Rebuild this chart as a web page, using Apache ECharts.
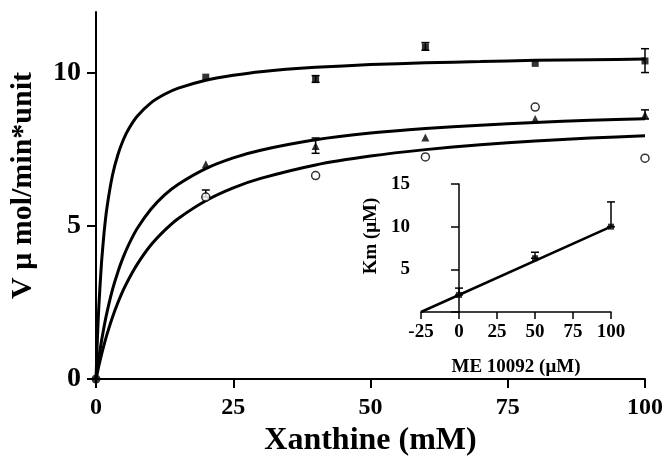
<!DOCTYPE html>
<html>
<head>
<meta charset="utf-8">
<script src="https://cdn.jsdelivr.net/npm/echarts@6/dist/echarts.min.js"></script>
<style>
  html, body { margin: 0; padding: 0; background: #fff; }
  #main { width: 666px; height: 468px; }
</style>
</head>
<body>
<div id="main"></div>
<script>
// measured points (xanthine, V)
var xPoints = [20, 40, 60, 80, 100];
var squareV = [9.87, 9.80, 10.86, 10.32, 10.40];
var triangleV = [7.02, 7.62, 7.90, 8.50, 8.63];
var circleV = [5.95, 6.65, 7.26, 8.89, 7.22];

// error bars: [x, low, high]
var squareErr = [[40, 9.70, 9.92], [60, 10.75, 11.0], [100, 10.02, 10.80]];
var triangleErr = [[40, 7.38, 7.88], [100, 8.50, 8.80]];
var circleErr = [[20, 5.95, 6.18]];

// fitted curves
var curveX = [0, 0.25, 0.5, 1, 1.5, 2, 3, 4, 5, 6, 7.5, 10, 12.5, 15, 20, 25, 30, 40, 50, 60, 70, 80, 90, 100];
var curveA = [0, 1.30, 2.32, 3.80, 4.84, 5.61, 6.66, 7.34, 7.83, 8.19, 8.59, 9.03, 9.31, 9.51, 9.77, 9.93, 10.05, 10.19, 10.28, 10.34, 10.38, 10.42, 10.44, 10.46];
var curveB = [0, 0.35, 0.67, 1.24, 1.74, 2.18, 2.92, 3.51, 4.00, 4.41, 4.92, 5.55, 6.02, 6.37, 6.88, 7.23, 7.48, 7.82, 8.04, 8.19, 8.30, 8.39, 8.46, 8.51];
var curveC = [0, 0.21, 0.42, 0.80, 1.14, 1.46, 2.02, 2.50, 2.92, 3.28, 3.75, 4.38, 4.86, 5.25, 5.83, 6.25, 6.56, 7.00, 7.29, 7.50, 7.66, 7.78, 7.88, 7.95];

// inset: Km vs ME 10092
var insetX = [0, 50, 100];
var insetKm = [2.0, 6.3, 10.0];
var insetKmHigh = [2.8, 7.0, 12.9];
var insetLineX = [-25, 100];
var insetLineY = [0, 10.0];

var yTicks = [0, 5, 10];
var insetYLabels = [5, 10, 15];
var insetYTicks = [0, 5, 10, 15];

function pairs(xs, ys) {
    var out = [];
    for (var i = 0; i < xs.length; i++) {
        out.push([xs[i], ys[i]]);
    }
    return out;
}

function errorItem(params, api) {
    var x = api.value(0);
    var lo = api.coord([x, api.value(1)]);
    var hi = api.coord([x, api.value(2)]);
    var w = 4;
    var st = { stroke: '#000', lineWidth: 1.5 };
    return {
        type: 'group',
        children: [
            { type: 'line', shape: { x1: lo[0], y1: lo[1], x2: hi[0], y2: hi[1] }, style: st },
            { type: 'line', shape: { x1: hi[0] - w, y1: hi[1], x2: hi[0] + w, y2: hi[1] }, style: st },
            { type: 'line', shape: { x1: lo[0] - w, y1: lo[1], x2: lo[0] + w, y2: lo[1] }, style: st }
        ]
    };
}

var insetErr = [];
for (var i = 0; i < insetX.length; i++) {
    insetErr.push([insetX[i], insetKm[i], insetKmHigh[i]]);
}

var font = 'Liberation Serif';
var axisLine = { lineStyle: { color: '#000', width: 2 } };

var myChart = echarts.init(document.getElementById('main'));
myChart.setOption({
    animation: false,
    backgroundColor: '#fff',
    grid: [
        { left: 94, right: 21, top: 12, bottom: 89 },
        { left: 421, right: 55, top: 184, bottom: 156 }
    ],
    xAxis: [
        {
            gridIndex: 0, type: 'value', min: 0, max: 100, interval: 25,
            name: 'Xanthine (mM)', nameLocation: 'middle', nameGap: 46,
            nameTextStyle: { fontFamily: font, fontWeight: 'bold', fontSize: 32, color: '#000' },
            axisLine: axisLine,
            axisTick: { length: 9, lineStyle: { color: '#000', width: 2 } },
            axisLabel: { fontFamily: font, fontWeight: 'bold', fontSize: 24, color: '#000', margin: 17 },
            splitLine: { show: false }
        },
        {
            gridIndex: 1, type: 'value', min: -25, max: 100, interval: 25,
            name: 'ME 10092 (\u03bcM)', nameLocation: 'middle', nameGap: 46,
            nameTextStyle: { fontFamily: font, fontWeight: 'bold', fontSize: 19, color: '#000' },
            axisLine: { lineStyle: { color: '#000', width: 1.5 } },
            axisTick: { length: 7, lineStyle: { color: '#000', width: 1.5 } },
            axisLabel: { fontFamily: font, fontWeight: 'bold', fontSize: 19, color: '#000', margin: 11 },
            splitLine: { show: false }
        }
    ],
    yAxis: [
        {
            gridIndex: 0, type: 'value', min: 0, max: 12, interval: 5,
            name: 'V \u03bc mol/min*unit', nameLocation: 'middle', nameGap: 58,
            nameTextStyle: { fontFamily: font, fontWeight: 'bold', fontSize: 30, color: '#000', padding: [0, 0, 0, 20] },
            axisLine: axisLine,
            axisTick: { length: 9, customValues: yTicks, lineStyle: { color: '#000', width: 2 } },
            axisLabel: { fontFamily: font, fontWeight: 'bold', fontSize: 28, color: '#000', margin: 15, customValues: yTicks },
            splitLine: { show: false }
        },
        {
            gridIndex: 1, type: 'value', min: 0, max: 15, interval: 5,
            name: 'Km (\u03bcM)', nameLocation: 'middle', nameGap: 40,
            nameTextStyle: { fontFamily: font, fontWeight: 'bold', fontSize: 19, color: '#000', padding: [0, 0, 0, 24] },
            axisLine: { lineStyle: { color: '#000', width: 1.5 } },
            axisTick: { length: 8, customValues: insetYTicks, lineStyle: { color: '#000', width: 1.5 } },
            axisLabel: { fontFamily: font, fontWeight: 'bold', fontSize: 19, color: '#000', margin: 11, customValues: insetYLabels },
            splitLine: { show: false }
        }
    ],
    series: [
        {
            type: 'line', xAxisIndex: 0, yAxisIndex: 0, smooth: 0.2, showSymbol: false,
            lineStyle: { color: '#000', width: 3 }, data: pairs(curveX, curveA), z: 2
        },
        {
            type: 'line', xAxisIndex: 0, yAxisIndex: 0, smooth: 0.2, showSymbol: false,
            lineStyle: { color: '#000', width: 3 }, data: pairs(curveX, curveB), z: 2
        },
        {
            type: 'line', xAxisIndex: 0, yAxisIndex: 0, smooth: 0.2, showSymbol: false,
            lineStyle: { color: '#000', width: 3 }, data: pairs(curveX, curveC), z: 2
        },
        {
            type: 'custom', xAxisIndex: 0, yAxisIndex: 0, renderItem: errorItem,
            encode: { x: 0, y: [1, 2] }, data: squareErr.concat(triangleErr, circleErr), z: 3
        },
        {
            type: 'scatter', xAxisIndex: 0, yAxisIndex: 0, symbol: 'rect', symbolSize: 7,
            itemStyle: { color: '#000' }, data: pairs(xPoints, squareV), z: 4
        },
        {
            type: 'scatter', xAxisIndex: 0, yAxisIndex: 0, symbol: 'triangle', symbolSize: 8,
            itemStyle: { color: '#000' }, data: pairs(xPoints, triangleV), z: 4
        },
        {
            type: 'scatter', xAxisIndex: 0, yAxisIndex: 0, symbol: 'circle', symbolSize: 8,
            itemStyle: { color: '#fff', borderColor: '#000', borderWidth: 1.5 }, data: pairs(xPoints, circleV), z: 4
        },
        {
            type: 'scatter', xAxisIndex: 0, yAxisIndex: 0, symbol: 'circle', symbolSize: 9,
            itemStyle: { color: '#000' }, data: [[0, 0]], z: 4
        },
        {
            type: 'line', xAxisIndex: 1, yAxisIndex: 1, showSymbol: false,
            lineStyle: { color: '#000', width: 2.5 }, data: pairs(insetLineX, insetLineY), z: 2
        },
        {
            type: 'custom', xAxisIndex: 1, yAxisIndex: 1, renderItem: errorItem,
            encode: { x: 0, y: [1, 2] }, data: insetErr, z: 3
        },
        {
            type: 'scatter', xAxisIndex: 1, yAxisIndex: 1, symbol: 'rect', symbolSize: 6,
            itemStyle: { color: '#000' }, data: pairs(insetX, insetKm), z: 4
        }
    ]
});
</script>
</body>
</html>
